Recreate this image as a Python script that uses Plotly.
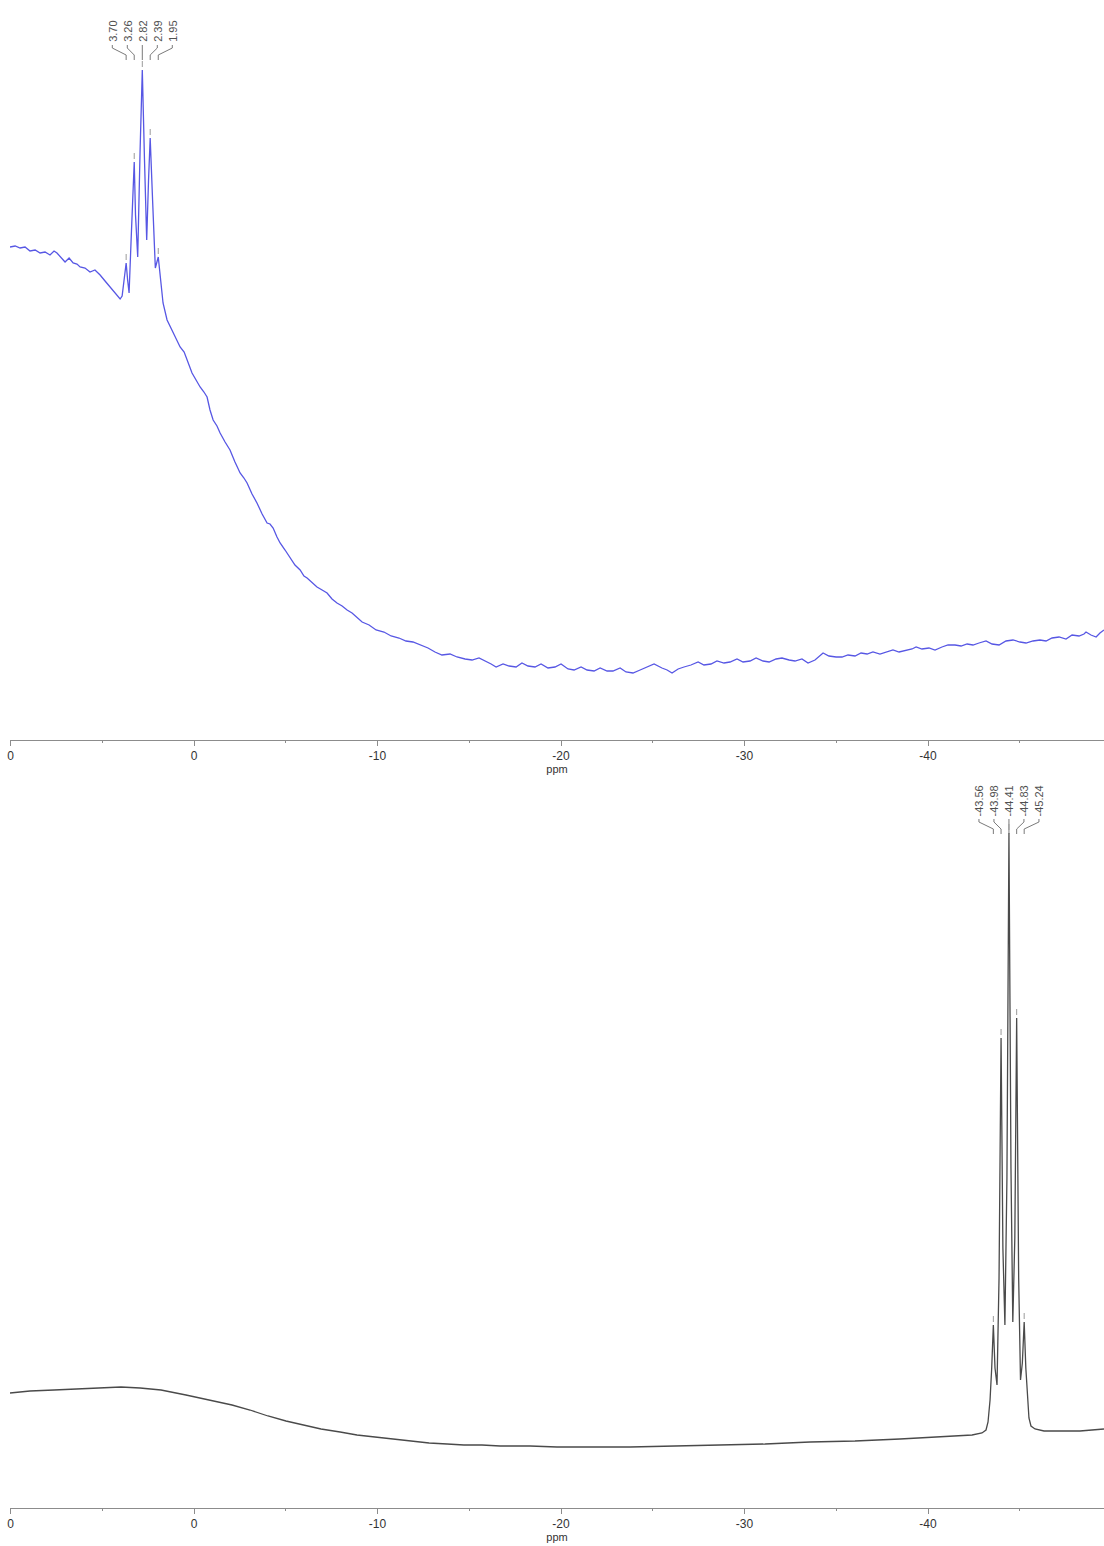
import plotly.graph_objects as go
import numpy as np

# ---------------- data (ppm, intensity in a.u.) ----------------
top_ppm = [
    10.03, 9.75, 9.48, 9.21, 8.94, 8.66, 8.39, 8.12, 7.85, 7.63,
    7.47, 7.25, 7.03, 6.81, 6.59, 6.38, 6.21, 5.94, 5.67, 5.40,
    5.12, 4.85, 4.58, 4.31, 4.03, 3.92, 3.81, 3.70, 3.62, 3.54,
    3.43, 3.26, 3.19, 3.07, 2.94, 2.82, 2.70, 2.58, 2.48, 2.39,
    2.26, 2.11, 1.95, 1.76, 1.69, 1.47, 1.31, 1.14, 0.98, 0.76,
    0.54, 0.38, 0.11, -0.11, -0.33, -0.54, -0.71, -0.87, -1.04, -1.25,
    -1.42, -1.69, -1.96, -2.23, -2.51, -2.72, -2.89, -3.16, -3.43, -3.71,
    -3.98, -4.14, -4.31, -4.52, -4.69, -4.96, -5.23, -5.50, -5.78, -5.99,
    -6.16, -6.43, -6.70, -6.98, -7.25, -7.52, -7.79, -8.07, -8.34, -8.61,
    -8.88, -9.16, -9.54, -9.92, -10.35, -10.74, -11.17, -11.55, -11.93, -12.32,
    -12.75, -13.13, -13.51, -13.95, -14.33, -14.77, -15.15, -15.53, -15.91, -16.19,
    -16.46, -16.84, -17.17, -17.55, -17.87, -18.20, -18.58, -18.91, -19.29, -19.67,
    -20.00, -20.38, -20.71, -21.09, -21.42, -21.80, -22.13, -22.51, -22.83, -23.22,
    -23.54, -23.92, -24.31, -24.69, -25.07, -25.50, -25.78, -26.05, -26.38, -26.70,
    -27.08, -27.47, -27.79, -28.17, -28.50, -28.88, -29.21, -29.59, -29.92, -30.30,
    -30.63, -31.01, -31.34, -31.72, -32.04, -32.43, -32.75, -33.13, -33.46, -33.84,
    -34.11, -34.28, -34.60, -34.99, -35.31, -35.64, -36.02, -36.35, -36.68, -37.00,
    -37.38, -37.71, -38.09, -38.42, -38.80, -39.13, -39.35, -39.67, -40.05, -40.38,
    -40.76, -41.09, -41.47, -41.80, -42.13, -42.45, -42.78, -43.16, -43.49, -43.87,
    -44.25, -44.63, -45.01, -45.34, -45.72, -46.10, -46.43, -46.76, -47.14, -47.52,
    -47.85, -48.23, -48.50, -48.61, -48.88, -49.16, -49.37, -49.59,
]
top_int = [
    493, 494, 492, 493, 489, 490, 487, 488, 485, 489,
    487, 482, 478, 482, 477, 476, 473, 472, 468, 470,
    465, 459, 453, 448, 441, 444, 460, 477, 460, 447,
    500, 578, 525, 483, 590, 670, 580, 500, 560, 602,
    540, 472, 483, 447, 437, 420, 414, 407, 402, 393,
    388, 380, 367, 360, 353, 348, 343, 330, 320, 314,
    307, 298, 290, 278, 267, 262, 257, 246, 237, 226,
    217, 216, 212, 203, 197, 190, 183, 175, 170, 164,
    162, 157, 153, 150, 147, 141, 137, 134, 130, 127,
    123, 118, 115, 110, 108, 104, 102, 99, 98, 95,
    92, 88, 85, 86, 83, 81, 80, 82, 79, 76,
    73, 76, 74, 73, 77, 74, 73, 76, 72, 73,
    76, 71, 70, 73, 70, 69, 72, 69, 69, 72,
    68, 67, 70, 73, 76, 72, 70, 67, 71, 73,
    75, 78, 75, 76, 79, 77, 78, 81, 78, 79,
    82, 79, 78, 81, 82, 80, 79, 81, 77, 80,
    84, 87, 84, 83, 83, 85, 84, 87, 86, 88,
    86, 88, 90, 88, 90, 91, 93, 91, 92, 90,
    93, 95, 95, 94, 96, 95, 97, 99, 96, 95,
    99, 100, 98, 97, 99, 100, 99, 102, 103, 101,
    105, 104, 106, 108, 105, 103, 107, 110,
]

bot_ppm = [
    10.03, 8.94, 7.63, 6.21, 4.74, 3.98, 2.94, 1.80, 0.44, -0.33,
    -1.09, -2.07, -3.05, -4.03, -5.01, -5.94, -6.92, -7.96, -8.88, -9.86,
    -10.84, -11.83, -12.81, -13.79, -14.71, -15.69, -16.68, -18.31, -19.78, -21.58,
    -23.76, -26.21, -28.66, -31.12, -33.57, -36.02, -38.47, -40.65, -42.40, -42.94,
    -43.16, -43.27, -43.38, -43.47, -43.56, -43.65, -43.76, -43.87, -43.98, -44.08,
    -44.19, -44.30, -44.41, -44.52, -44.62, -44.73, -44.83, -44.94, -45.04, -45.14,
    -45.24, -45.33, -45.42, -45.50, -45.61, -45.83, -46.32, -47.19, -48.28, -49.59,
]
bot_int = [
    115, 117, 118, 119, 120, 121, 120, 118, 113, 110,
    107, 103, 98, 92, 87, 83, 79, 76, 73, 71,
    69, 67, 65, 64, 63, 63, 62, 62, 61, 61,
    61, 62, 63, 64, 66, 67, 69, 71, 73, 75,
    78, 86, 108, 140, 183, 140, 123, 230, 470, 260,
    183, 330, 675, 340, 186, 270, 490, 230, 128, 145,
    186, 140, 110, 90, 82, 79, 77, 77, 77, 79,
]

top_peak_labels = ["3.70", "3.26", "2.82", "2.39", "1.95"]
bot_peak_labels = ["-43.56", "-43.98", "-44.41", "-44.83", "-45.24"]

tick_vals = [10, 0, -10, -20, -30, -40]
tick_text = ["0", "0", "-10", "-20", "-30", "-40"]
minor_vals = [5, -5, -15, -25, -35, -45]

# ---------------- layout helpers ----------------
W, H = 1104, 1546


def py(px):
    return 1 - px / H


X_RANGE = [10.03, -49.59]
PX_PER_PPM = (W - 10) / (X_RANGE[0] - X_RANGE[1])
LABEL_SPACING = 15 / PX_PER_PPM
FONT = "Liberation Sans, Arial, sans-serif"

fig = go.Figure()
fig.add_trace(go.Scatter(x=top_ppm, y=top_int, mode="lines",
                         line=dict(color="#5757e4", width=1.3),
                         xaxis="x", yaxis="y", hoverinfo="skip", showlegend=False))
fig.add_trace(go.Scatter(x=bot_ppm, y=bot_int, mode="lines",
                         line=dict(color="#4a4a4a", width=1.3),
                         xaxis="x2", yaxis="y2", hoverinfo="skip", showlegend=False))

tickfont = dict(family=FONT, size=12, color="#333333")


def xaxis_cfg(anchor):
    return dict(
        anchor=anchor, range=X_RANGE, domain=[10 / W, 1],
        showline=True, linecolor="#8c8c8c", linewidth=1,
        ticks="outside", ticklen=5, tickwidth=1, tickcolor="#8c8c8c",
        tickmode="array", tickvals=tick_vals, ticktext=tick_text,
        tickfont=tickfont, showgrid=False, zeroline=False,
        minor=dict(tickmode="array", tickvals=minor_vals, ticks="outside",
                   ticklen=2, tickcolor="#8c8c8c", showgrid=False),
        title=dict(text="ppm", font=dict(family=FONT, size=11, color="#333333"),
                   standoff=0),
        automargin=False, fixedrange=True,
    )


fig.update_layout(
    width=W, height=H,
    margin=dict(l=0, r=0, t=0, b=0),
    paper_bgcolor="white", plot_bgcolor="white",
    showlegend=False,
    xaxis=xaxis_cfg("y"),
    xaxis2=xaxis_cfg("y2"),
    yaxis=dict(domain=[py(740), 1], range=[0, 740], visible=False, fixedrange=True),
    yaxis2=dict(domain=[py(1508), py(770)], range=[0, 738], visible=False, fixedrange=True),
)

shapes = []
annotations = []


def add_labels(labels, ppm_arr, int_arr, xref, yref, text_bottom_px):
    ppm_np = np.array(ppm_arr)
    center = float(labels[len(labels) // 2])
    n = len(labels)
    for i, lab in enumerate(labels):
        pk = float(lab)
        lx = center + ((n - 1) / 2 - i) * LABEL_SPACING
        annotations.append(dict(
            x=lx, y=py(text_bottom_px), xref=xref, yref="paper",
            text=lab, textangle=-90, showarrow=False,
            xanchor="center", yanchor="bottom",
            font=dict(family=FONT, size=11, color="#505050"),
        ))
        y0, y1, y2, y3 = (text_bottom_px + 1, text_bottom_px + 4,
                          text_bottom_px + 11, text_bottom_px + 16)
        shapes.append(dict(
            type="path", xref=xref, yref="paper",
            path=f"M {lx},{py(y0)} L {lx},{py(y1)} L {pk},{py(y2)} L {pk},{py(y3)}",
            line=dict(color="#7a7a7a", width=1),
        ))
        idx = int(np.argmin(np.abs(ppm_np - pk)))
        top = int_arr[idx]
        shapes.append(dict(
            type="line", xref=xref, yref=yref,
            x0=pk, x1=pk, y0=top + 3, y1=top + 9,
            line=dict(color="#9a9a9a", width=1),
        ))


add_labels(top_peak_labels, top_ppm, top_int, "x", "y", 44)
add_labels(bot_peak_labels, bot_ppm, bot_int, "x2", "y2", 818)

fig.update_layout(shapes=shapes, annotations=annotations)

fig.write_html("out.html")
